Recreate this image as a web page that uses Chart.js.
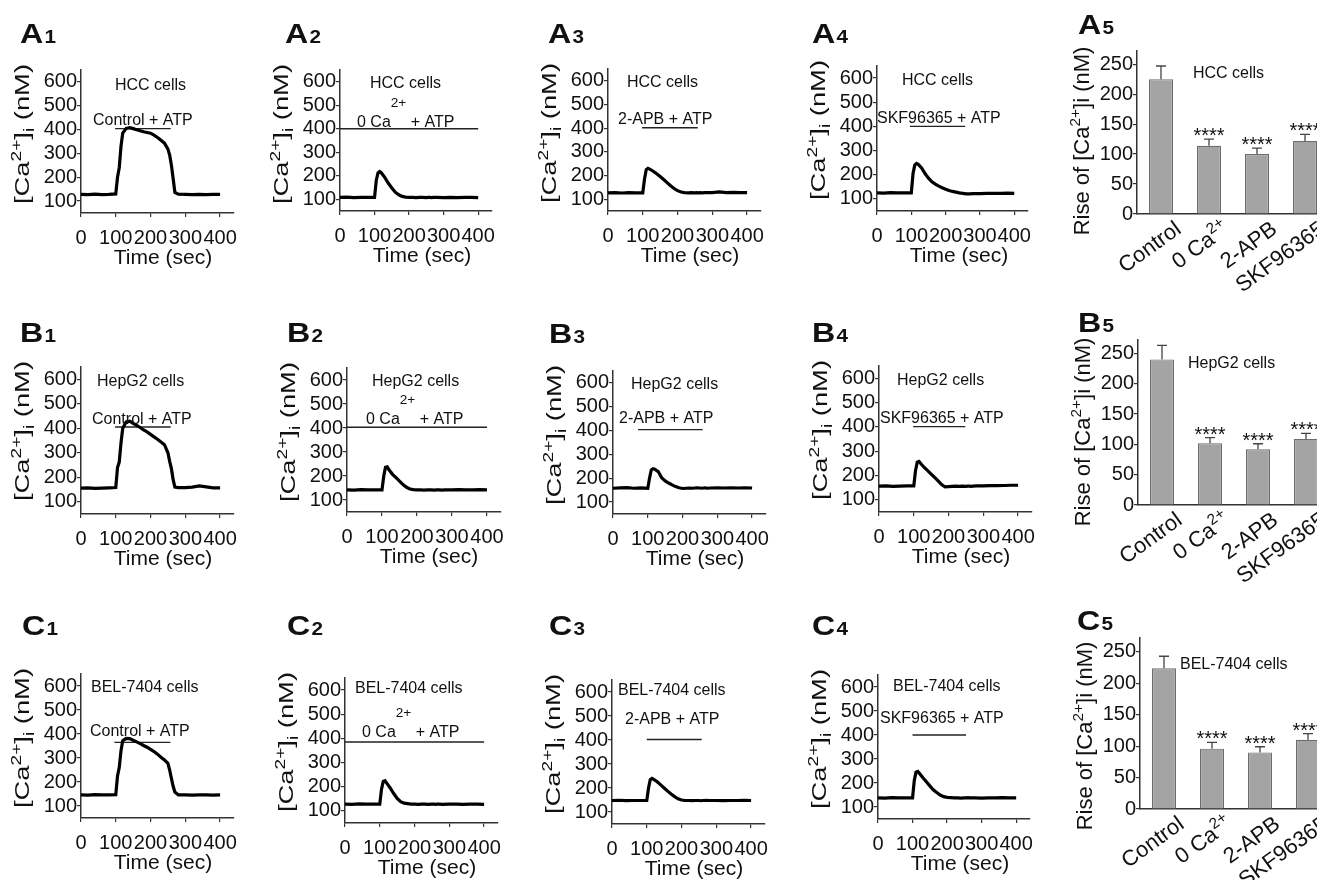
<!DOCTYPE html>
<html>
<head>
<meta charset="utf-8">
<script src="https://cdn.jsdelivr.net/npm/chart.js@4.4.1/dist/chart.umd.min.js"></script>
<style>
  html, body { margin: 0; padding: 0; background: #fff; width: 1317px; height: 880px; overflow: hidden; }
  canvas { position: absolute; }
</style>
</head>
<body>
<script>
// --- Data ---

// sample times of the [Ca2+]i traces, seconds
const TIME = [0, 20, 40, 60, 80, 100, 105, 110, 115, 120, 130, 140, 150, 160, 170, 180, 190, 200,
              210, 220, 230, 240, 250, 255, 260, 265, 270, 280, 300, 320, 340, 360, 380, 400];
const TIME_TICKS = [0, 100, 200, 300, 400];
const CA_TICKS = [100, 200, 300, 400, 500, 600];

// HCC cells
const A1_TRACE = [128,127,129,127,128,130,200,240,330,385,405,408,404,399,395,391,388,385,377,367,355,343,318,293,250,195,136,129,128,127,128,127,128,128];
const A2_TRACE = [108,109,107,108,108,108,180,212,218,212,192,168,148,130,119,112,109,108,108,107,108,108,107,108,108,107,108,108,107,108,107,108,108,107];
const A3_TRACE = [127,128,126,128,127,127,185,225,230,227,218,207,196,183,170,157,145,136,130,128,127,128,127,128,127,128,127,128,128,131,128,129,128,128];
const A4_TRACE = [125,124,126,125,125,125,205,240,247,243,228,205,186,171,161,153,146,140,135,131,128,125,123,122,121,121,121,122,122,123,123,123,124,123];
// HepG2 cells
const B1_TRACE = [156,157,155,156,157,158,240,262,340,400,426,429,420,412,403,393,385,375,365,355,344,333,300,265,235,190,160,158,158,160,165,161,157,157];
const B2_TRACE = [142,141,143,142,142,142,200,236,238,226,207,193,179,164,153,146,143,142,142,141,142,142,141,142,142,142,141,142,142,143,142,142,143,142];
const B3_TRACE = [158,160,161,158,160,158,200,235,240,238,228,202,189,180,172,165,160,157,158,159,158,160,159,158,159,160,158,159,160,159,160,159,160,159];
const B4_TRACE = [156,157,155,156,157,157,220,255,258,249,233,220,206,192,178,163,153,154,155,156,155,156,155,156,156,155,156,157,157,158,158,159,160,160];
// BEL-7404 cells
const C1_TRACE = [146,145,147,146,146,147,225,260,330,372,382,381,374,367,360,352,345,336,327,316,303,292,278,250,215,182,158,146,146,145,146,146,145,146];
const C2_TRACE = [128,127,129,128,128,128,190,222,225,215,195,172,152,138,132,130,128,128,127,128,128,127,128,128,127,128,128,127,128,128,127,128,128,127];
const C3_TRACE = [148,149,147,148,148,148,200,235,240,236,226,213,200,187,175,164,155,150,148,148,147,148,148,147,148,148,149,148,148,147,148,148,149,148];
const C4_TRACE = [138,137,139,138,138,138,210,245,248,240,222,205,188,172,160,150,143,140,139,138,138,137,138,138,139,138,138,138,137,138,138,139,138,138];

// drug application bars: [start s, end s, level nM]
const A1_DRUG = [98, 258, 404], A2_DRUG = [0, 400, 400], A3_DRUG = [98, 258, 402], A4_DRUG = [96, 257, 400];
const B1_DRUG = [98, 258, 405], B2_DRUG = [0, 400, 403], B3_DRUG = [72, 258, 404], B4_DRUG = [98, 248, 401];
const C1_DRUG = [96, 257, 365], C2_DRUG = [0, 400, 385], C3_DRUG = [100, 258, 402], C4_DRUG = [100, 255, 400];

// summary bars
const CATS = ['Control', '0 Ca2+', '2-APB', 'SKF96365'];
const RISE_TICKS = [0, 50, 100, 150, 200, 250];
const A5_MEAN = [225, 114, 100, 122], A5_ERR = [22, 11, 10, 11];
const B5_MEAN = [240, 102, 92, 109],  B5_ERR = [23, 9, 9, 9];
const C5_MEAN = [224, 96, 90, 110],   C5_ERR = [19, 10, 9, 10];
const SIG = ['', '****', '****', '****'];

// --- Layout (page pixels) ---
const TRACE_PANELS = [
  { name: ['A', '1'], cells: 'HCC cells', treat: 'Control + ATP', trace: A1_TRACE, drug: A1_DRUG, plot: [81, 220, 70, 213], label: [20, 43], cellAt: [115, 84], treatAt: [93, 119] },
  { name: ['A', '2'], cells: 'HCC cells', treat: '0 Ca2+ + ATP', trace: A2_TRACE, drug: A2_DRUG, plot: [340, 478, 70, 211], label: [285, 43], cellAt: [370, 82], treatAt: [357, 121] },
  { name: ['A', '3'], cells: 'HCC cells', treat: '2-APB + ATP', trace: A3_TRACE, drug: A3_DRUG, plot: [608, 747, 69, 211], label: [548, 43], cellAt: [627, 81], treatAt: [618, 118] },
  { name: ['A', '4'], cells: 'HCC cells', treat: 'SKF96365 + ATP', trace: A4_TRACE, drug: A4_DRUG, plot: [877, 1014, 66, 211], label: [812, 43], cellAt: [902, 79], treatAt: [877, 117] },
  { name: ['B', '1'], cells: 'HepG2 cells', treat: 'Control + ATP', trace: B1_TRACE, drug: B1_DRUG, plot: [81, 220, 367, 514], label: [20, 342], cellAt: [97, 380], treatAt: [92, 418] },
  { name: ['B', '2'], cells: 'HepG2 cells', treat: '0 Ca2+ + ATP', trace: B2_TRACE, drug: B2_DRUG, plot: [347, 487, 368, 512], label: [287, 342], cellAt: [372, 380], treatAt: [366, 418] },
  { name: ['B', '3'], cells: 'HepG2 cells', treat: '2-APB + ATP', trace: B3_TRACE, drug: B3_DRUG, plot: [613, 752, 371, 514], label: [549, 343], cellAt: [631, 383], treatAt: [619, 417] },
  { name: ['B', '4'], cells: 'HepG2 cells', treat: 'SKF96365 + ATP', trace: B4_TRACE, drug: B4_DRUG, plot: [879, 1018, 366, 512], label: [812, 342], cellAt: [897, 379], treatAt: [880, 417] },
  { name: ['C', '1'], cells: 'BEL-7404 cells', treat: 'Control + ATP', trace: C1_TRACE, drug: C1_DRUG, plot: [81, 220, 674, 818], label: [22, 635], cellAt: [91, 686], treatAt: [90, 730] },
  { name: ['C', '2'], cells: 'BEL-7404 cells', treat: '0 Ca2+ + ATP', trace: C2_TRACE, drug: C2_DRUG, plot: [345, 484, 678, 823], label: [287, 635], cellAt: [355, 687], treatAt: [362, 731] },
  { name: ['C', '3'], cells: 'BEL-7404 cells', treat: '2-APB + ATP', trace: C3_TRACE, drug: C3_DRUG, plot: [612, 751, 680, 824], label: [549, 635], cellAt: [618, 689], treatAt: [625, 718] },
  { name: ['C', '4'], cells: 'BEL-7404 cells', treat: 'SKF96365 + ATP', trace: C4_TRACE, drug: C4_DRUG, plot: [878, 1016, 675, 819], label: [812, 635], cellAt: [893, 685], treatAt: [880, 717] }
];

const BAR_PANELS = [
  { name: ['A', '5'], cells: 'HCC cells', means: A5_MEAN, errs: A5_ERR, plot: [1137, 214, 64], label: [1078, 34], cellAt: [1193, 72] },
  { name: ['B', '5'], cells: 'HepG2 cells', means: B5_MEAN, errs: B5_ERR, plot: [1138, 505, 353], label: [1078, 332], cellAt: [1188, 362] },
  { name: ['C', '5'], cells: 'BEL-7404 cells', means: C5_MEAN, errs: C5_ERR, plot: [1140, 809, 652], label: [1077, 630], cellAt: [1180, 663] }
];

const FONT = '"Liberation Sans", Arial, Helvetica, sans-serif';
const INK = '#111';
const AXIS = '#333';
const TIME_MAX = 440, CA_MIN = 50, CA_MAX = 650, RISE_MAX = 272, CAT_W = 48;
// canvas margins around each plot; the scale boxes must hold their own labels
const PL = 90, PT = 75, PR = 30, PB = 75, YW = 45, XH = 45;

Chart.defaults.font.family = FONT;
Chart.defaults.color = INK;

// --- Text helpers ---

// "0 Ca2+ + ATP" -> [["0 Ca"], ["2+", "sup", lift, scale], [" + ATP"]]
function chargeParts(str, lift, scale) {
  const m = str.match(/^(.*Ca)(2\+)(.*)$/);
  return m ? [[m[1]], ['2+', 'sup', lift, scale], [m[3]]] : [[str]];
}

function partSize(size, kind, scale) {
  return kind ? size * (scale || 0.7) : size;
}

function measureParts(ctx, parts, size, weight = 'normal') {
  let w = 0;
  parts.forEach(([s, kind, , scale]) => {
    ctx.font = `${weight} ${partSize(size, kind, scale)}px ${FONT}`;
    w += ctx.measureText(s).width;
  });
  return w;
}

// y is the vertical centre of the normal-size capitals
function drawParts(ctx, parts, x, y, size, align = 'left', weight = 'normal') {
  const total = measureParts(ctx, parts, size, weight);
  let cx = align === 'center' ? x - total / 2 : align === 'right' ? x - total : x;
  const base = y + size * 0.36;
  ctx.textAlign = 'left';
  ctx.textBaseline = 'alphabetic';
  ctx.fillStyle = INK;
  parts.forEach(([s, kind, lift, scale]) => {
    ctx.font = `${weight} ${partSize(size, kind, scale)}px ${FONT}`;
    let dy = 0;
    if (kind === 'sup') dy = -size * (lift || 0.42);
    if (kind === 'sub') dy = size * 0.22;
    ctx.fillText(s, cx, base + dy);
    cx += ctx.measureText(s).width;
  });
}

function panelLabel(ctx, name, x, base) {
  ctx.save();
  ctx.translate(x, base);
  ctx.scale(1.15, 1);
  ctx.fillStyle = INK;
  ctx.textAlign = 'left';
  ctx.textBaseline = 'alphabetic';
  ctx.font = `bold 28px ${FONT}`;
  ctx.fillText(name[0], 0, 0);
  const w = ctx.measureText(name[0]).width;
  ctx.font = `bold 18px ${FONT}`;
  ctx.fillText(name[1], w + 1, 0);
  ctx.restore();
}

function addCanvas(x, y, w, h) {
  const c = document.createElement('canvas');
  c.width = Math.round(w);
  c.height = Math.round(h);
  c.style.left = Math.round(x) + 'px';
  c.style.top = Math.round(y) + 'px';
  c.style.width = c.width + 'px';
  c.style.height = c.height + 'px';
  document.body.appendChild(c);
  return c;
}

const baseOptions = {
  responsive: false,
  animation: false,
  devicePixelRatio: 1,
  events: [],
  plugins: { legend: { display: false }, tooltip: { enabled: false } }
};

// --- Trace panels ---
function makeTrace(p) {
  const [ax, x400, top, bottom] = p.plot;
  const pxPerSec = (x400 - ax) / 400;
  const W = PL + TIME_MAX * pxPerSec + PR;
  const H = PT + (bottom - top) + PB;
  const left = Math.round(ax - PL), topPx = Math.round(top - PT);
  const canvas = addCanvas(left, topPx, W, H);

  const textPlugin = {
    id: 'traceText',
    afterDraw(chart) {
      const ctx = chart.ctx;
      ctx.save();
      ctx.translate(-left, -topPx);
      panelLabel(ctx, p.name, p.label[0], p.label[1]);
      drawParts(ctx, [[p.cells]], p.cellAt[0], p.cellAt[1], 16);
      drawParts(ctx, chargeParts(p.treat, 1.25, 0.85), p.treatAt[0], p.treatAt[1], 16);
      drawParts(ctx, [['Time (sec)']], ax + 82, bottom + 43, 21, 'center');
      // y title, stretched along its length like the original
      const yParts = [['[Ca'], ['2+', 'sup'], [']'], ['i', 'sub'], [' (nM)']];
      const len = measureParts(ctx, yParts, 20);
      ctx.translate(ax - 59, top + 64);
      ctx.rotate(-Math.PI / 2);
      ctx.scale(140 / len, 1);
      drawParts(ctx, yParts, 0, 0, 20, 'center');
      ctx.restore();
    }
  };

  new Chart(canvas, {
    type: 'line',
    data: {
      datasets: [
        {
          data: TIME.map((t, i) => ({ x: t, y: p.trace[i] })),
          borderColor: '#000', borderWidth: 3.2, pointRadius: 0, tension: 0
        },
        {
          data: [{ x: p.drug[0], y: p.drug[2] }, { x: p.drug[1], y: p.drug[2] }],
          borderColor: '#222', borderWidth: 1.4, pointRadius: 0
        }
      ]
    },
    options: {
      ...baseOptions,
      layout: { padding: { left: PL - YW, top: PT, right: PR, bottom: PB - XH } },
      scales: {
        x: {
          type: 'linear', min: 0, max: TIME_MAX,
          afterBuildTicks: s => { s.ticks = TIME_TICKS.map(v => ({ value: v })); },
          afterFit: s => { s.height = XH; },
          grid: { drawOnChartArea: false, tickLength: 4, color: AXIS, lineWidth: 1.2 },
          border: { color: AXIS, width: 1.5 },
          ticks: { autoSkip: false, maxRotation: 0, minRotation: 0, padding: 9, font: { size: 20 }, color: INK }
        },
        y: {
          min: CA_MIN, max: CA_MAX,
          afterBuildTicks: s => { s.ticks = CA_TICKS.map(v => ({ value: v })); },
          afterFit: s => { s.width = YW; },
          grid: { drawOnChartArea: false, tickLength: 4, color: AXIS, lineWidth: 1.2 },
          border: { color: AXIS, width: 1.5 },
          ticks: { padding: 0, font: { size: 20 }, color: INK }
        }
      }
    },
    plugins: [textPlugin]
  });
}

// --- Summary bar panels ---
function makeBars(p) {
  const [ax, y0, y250] = p.plot;
  const k = (y0 - y250) / 250;
  const top = y0 - RISE_MAX * k;
  const BPL = 85, BPT = 60, BPR = 10, BPB = 90;
  const W = BPL + CAT_W * CATS.length + BPR;
  const H = BPT + (y0 - top) + BPB;
  const left = Math.round(ax - BPL), topPx = Math.round(top - BPT);
  const canvas = addCanvas(left, topPx, W, H);

  const barPlugin = {
    id: 'barText',
    afterDraw(chart) {
      const ctx = chart.ctx;
      const xs = chart.scales.x, ys = chart.scales.y;
      ctx.save();
      // error bars (upper arm only) and significance stars
      ctx.strokeStyle = '#444';
      ctx.lineWidth = 1.3;
      p.means.forEach((m, i) => {
        const x = xs.getPixelForValue(i);
        const yTop = ys.getPixelForValue(m);
        const yCap = ys.getPixelForValue(m + p.errs[i]);
        ctx.beginPath();
        ctx.moveTo(x, yTop); ctx.lineTo(x, yCap);
        ctx.moveTo(x - 5, yCap); ctx.lineTo(x + 5, yCap);
        ctx.stroke();
        if (SIG[i]) {
          ctx.fillStyle = INK;
          ctx.font = `20px ${FONT}`;
          ctx.textAlign = 'center';
          ctx.textBaseline = 'alphabetic';
          ctx.fillText(SIG[i], x, yCap + 3);
        }
        // rotated category label
        ctx.save();
        ctx.translate(x + 12, ys.getPixelForValue(0) + 5);
        ctx.rotate(-36 * Math.PI / 180);
        drawParts(ctx, chargeParts(CATS[i]), 0, 8, 22, 'right');
        ctx.restore();
      });
      ctx.translate(-left, -topPx);
      panelLabel(ctx, p.name, p.label[0], p.label[1]);
      drawParts(ctx, [[p.cells]], p.cellAt[0], p.cellAt[1], 16);
      ctx.translate(ax - 56, y0 - 73);
      ctx.rotate(-Math.PI / 2);
      drawParts(ctx, [['Rise of [Ca'], ['2+', 'sup'], [']i (nM)']], 0, 0, 22, 'center');
      ctx.restore();
    }
  };

  new Chart(canvas, {
    type: 'bar',
    data: {
      labels: CATS,
      datasets: [{
        data: p.means,
        backgroundColor: '#a4a4a4', borderColor: '#6c6c6c', borderWidth: 1.2,
        barPercentage: 0.5, categoryPercentage: 1
      }]
    },
    options: {
      ...baseOptions,
      layout: { padding: { left: BPL - YW, top: BPT, right: BPR, bottom: BPB - 1 } },
      scales: {
        x: {
          ticks: { display: false },
          grid: { display: false },
          border: { color: AXIS, width: 1.5 },
          afterFit: s => { s.height = 1; }
        },
        y: {
          min: 0, max: RISE_MAX,
          afterBuildTicks: s => { s.ticks = RISE_TICKS.map(v => ({ value: v })); },
          afterFit: s => { s.width = YW; },
          grid: { drawOnChartArea: false, tickLength: 4, color: AXIS, lineWidth: 1.2 },
          border: { color: AXIS, width: 1.5 },
          ticks: { padding: 0, font: { size: 20 }, color: INK }
        }
      }
    },
    plugins: [barPlugin]
  });
}

TRACE_PANELS.forEach(makeTrace);
BAR_PANELS.forEach(makeBars);
</script>
</body>
</html>
